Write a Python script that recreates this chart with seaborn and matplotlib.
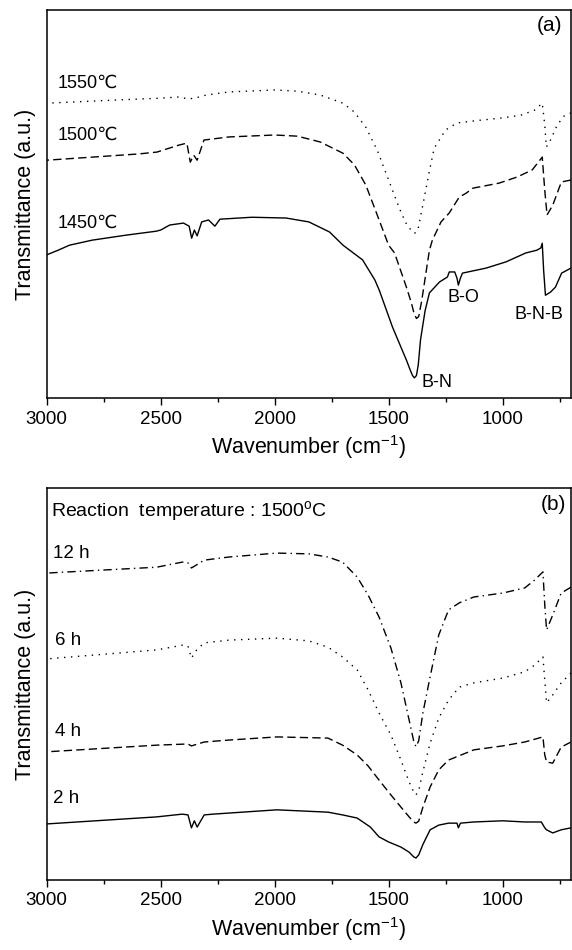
import pandas as pd
import matplotlib
matplotlib.use("Agg")
from matplotlib import pyplot as plt
from matplotlib.ticker import MultipleLocator
import seaborn as sns

# ---- panel (a): different temperatures (a.u.) ----
wn_1550 = [3000, 2700, 2500, 2420, 2380, 2350, 2300, 2200, 2000, 1900, 1800, 1700, 1650,
           1600, 1550, 1500, 1450, 1420, 1400, 1390, 1380, 1370, 1350, 1320, 1300, 1250,
           1200, 1100, 1000, 920, 860, 826, 815, 808, 790, 760, 730, 700]
t_1550 = [76.0, 76.8, 77.3, 77.6, 77.1, 77.3, 78.1, 78.9, 79.4, 79.1, 78.1, 76.0, 73.7,
          69.8, 63.9, 56.2, 48.5, 44.6, 43.2, 42.5, 42.6, 43.8, 49.7, 58.8, 64.4, 69.1,
          70.9, 71.6, 72.2, 72.9, 74.2, 76.0, 70.4, 64.7, 66.5, 70.4, 72.7, 73.5]

wn_1500 = [3000, 2800, 2600, 2516, 2420, 2385, 2370, 2355, 2340, 2310, 2200, 2000, 1900,
           1800, 1700, 1650, 1600, 1550, 1500, 1474, 1422, 1400, 1390, 1378, 1368, 1355,
           1321, 1308, 1270, 1234, 1190, 1160, 1130, 1015, 935, 870, 826, 815, 805, 780,
           742, 700]
t_1500 = [61.3, 62.1, 62.9, 63.4, 65.2, 65.7, 60.8, 62.6, 61.3, 66.5, 67.3, 67.8, 67.5,
          66.0, 63.1, 60.1, 54.9, 47.2, 39.4, 37.4, 28.6, 24.5, 22.2, 20.5, 21.0, 25.0,
          38.1, 40.7, 45.4, 47.7, 51.8, 52.8, 54.1, 55.4, 57.0, 58.8, 62.1, 53.6, 47.2,
          49.7, 55.7, 56.2]

wn_1450 = [3000, 2950, 2900, 2800, 2650, 2520, 2500, 2460, 2400, 2375, 2364, 2352, 2340,
           2320, 2290, 2262, 2240, 2100, 1950, 1850, 1759, 1700, 1614, 1560, 1541, 1483,
           1422, 1405, 1395, 1387, 1378, 1370, 1360, 1340, 1321, 1277, 1242, 1234, 1210,
           1200, 1194, 1185, 1176, 1072, 985, 898, 850, 832, 826, 820, 812, 790, 768, 741,
           700]
t_1450 = [36.9, 38.1, 39.4, 40.7, 42.0, 43.0, 43.3, 44.6, 45.1, 44.3, 41.2, 43.3, 41.8,
          45.4, 45.9, 44.3, 46.1, 46.6, 46.4, 45.4, 42.8, 39.4, 35.6, 30.4, 27.8, 18.3,
          9.8, 7.2, 5.8, 5.2, 5.8, 8.5, 15.0, 22.5, 27.1, 29.9, 31.2, 32.5, 32.5,
          30.9, 29.1, 30.9, 32.2, 33.5, 35.1, 37.4, 38.1, 38.7, 39.9, 33.0, 26.5, 27.3,
          28.6, 32.2, 33.5]

# ---- panel (b): different reaction times at 1500 C ----
wn_12h = [3000, 2517, 2405, 2380, 2365, 2342, 2309, 2200, 1990, 1850, 1766, 1702, 1638,
          1590, 1542, 1490, 1446, 1410, 1390, 1380, 1368, 1350, 1318, 1280, 1237, 1190,
          1126, 1000, 903, 860, 823, 815, 807, 780, 743, 700]
t_12h = [78.3, 79.8, 81.1, 80.9, 79.6, 80.4, 81.6, 82.4, 83.4, 83.2, 82.4, 81.1, 77.3,
         72.7, 67.1, 59.2, 50.3, 40.8, 35.5, 34.0, 35.5, 42.5, 51.8, 62.5, 68.9, 70.7,
         72.2, 73.2, 74.5, 76.5, 78.6, 70.2, 63.8, 67.6, 73.2, 74.7]

wn_6h = [3000, 2517, 2405, 2380, 2365, 2342, 2309, 2200, 1990, 1850, 1766, 1702, 1638,
         1590, 1542, 1490, 1446, 1410, 1390, 1380, 1368, 1350, 1318, 1280, 1237, 1190,
         1126, 1000, 903, 860, 823, 815, 807, 780, 743, 700]
t_6h = [56.4, 58.7, 59.9, 59.7, 56.6, 58.7, 60.5, 61.2, 61.7, 61.0, 59.4, 56.9, 53.6,
        48.5, 42.6, 37.0, 30.6, 25.0, 22.5, 21.7, 22.8, 27.5, 34.9, 41.3, 45.9, 49.2,
        50.3, 51.5, 53.1, 54.8, 56.9, 51.0, 45.2, 47.2, 50.3, 52.8]

wn_4h = [3000, 2517, 2380, 2365, 2309, 2200, 1990, 1766, 1702, 1638, 1590, 1542, 1490,
         1446, 1410, 1390, 1380, 1368, 1350, 1318, 1280, 1237, 1126, 1000, 903, 823, 815,
         807, 780, 743, 700]
t_4h = [32.7, 34.4, 34.7, 34.2, 35.2, 35.7, 36.5, 36.2, 34.4, 31.9, 29.1, 25.5, 21.7,
        18.6, 16.1, 14.8, 14.5, 15.0, 18.5, 23.7, 28.1, 30.6, 33.2, 34.2, 35.2, 36.5,
        31.9, 30.1, 29.8, 33.9, 35.2]

wn_2h = [3000, 2517, 2405, 2380, 2365, 2352, 2340, 2309, 2270, 1990, 1766, 1702, 1638,
         1580, 1542, 1500, 1446, 1410, 1390, 1380, 1368, 1350, 1318, 1280, 1237, 1200,
         1194, 1185, 1126, 1000, 903, 830, 815, 807, 780, 743, 700]
t_2h = [14.3, 16.1, 16.8, 16.6, 13.3, 15.1, 13.5, 16.6, 16.8, 17.9, 17.3, 16.6, 15.8,
        13.5, 11.0, 9.7, 8.4, 7.1, 5.9, 5.6, 6.4, 9.0, 12.8, 14.0, 14.5, 14.5,
        13.3, 14.5, 14.8, 15.1, 14.8, 14.8, 13.3, 12.8, 12.0, 12.8, 13.3]

sns.set_style("ticks")
plt.rcParams['font.family'] = ['Liberation Sans', 'DejaVu Sans']
plt.rcParams['mathtext.fontset'] = 'custom'
plt.rcParams['mathtext.rm'] = 'Liberation Sans'
plt.rcParams['text.color'] = 'black'
plt.rcParams['axes.labelcolor'] = 'black'
plt.rcParams['xtick.color'] = 'black'
plt.rcParams['ytick.color'] = 'black'

fig = plt.figure(figsize=(5.72, 9.5), dpi=100)
ax1 = fig.add_axes([0.0816, 0.581, 0.9166, 0.4084])
ax2 = fig.add_axes([0.0816, 0.0737, 0.9166, 0.4126])

dotted = (0, (1, 4))
dashed = (0, (6, 3))
dashdot = (0, (6, 3, 1, 3))

def draw(ax, wn, t, ls):
    df = pd.DataFrame({'wavenumber': wn, 'transmittance': t})
    sns.lineplot(data=df, x='wavenumber', y='transmittance', ax=ax,
                 color='black', lw=1.0, linestyle=ls)

draw(ax1, wn_1550, t_1550, dotted)
draw(ax1, wn_1500, t_1500, dashed)
draw(ax1, wn_1450, t_1450, '-')

draw(ax2, wn_12h, t_12h, dashdot)
draw(ax2, wn_6h, t_6h, dotted)
draw(ax2, wn_4h, t_4h, dashed)
draw(ax2, wn_2h, t_2h, '-')

for ax in (ax1, ax2):
    ax.set_xlim(3000, 700)
    ax.set_ylim(0, 100)
    ax.set_yticks([])
    ax.xaxis.set_major_locator(MultipleLocator(500))
    ax.xaxis.set_minor_locator(MultipleLocator(250))
    ax.tick_params(axis='x', which='major', length=5, width=1, labelsize=13.5, pad=4)
    ax.tick_params(axis='x', which='minor', length=3, width=1)
    for s in ax.spines.values():
        s.set_linewidth(1.1)
        s.set_color('black')
    ax.set_xlabel('Wavenumber (cm$^{\\mathregular{-1}}$)', fontsize=15.5, labelpad=4)
    ax.set_ylabel('Transmittance (a.u.)', fontsize=15.5, labelpad=8)

# panel (a) labels
ax1.text(0.960, 0.961, '(a)', transform=ax1.transAxes, fontsize=15, ha='center', va='center')
ax1.text(0.0216, 0.812, '1550\u2103', transform=ax1.transAxes, fontsize=13, va='center')
ax1.text(0.0216, 0.678, '1500\u2103', transform=ax1.transAxes, fontsize=13, va='center')
ax1.text(0.0216, 0.451, '1450\u2103', transform=ax1.transAxes, fontsize=13, va='center')
ax1.text(1356, 4.1, 'B-N', fontsize=13, va='center')
ax1.text(1242, 26.0, 'B-O', fontsize=13, va='center')
ax1.text(948, 21.6, 'B-N-B', fontsize=13, va='center')

# panel (b) labels
ax2.text(0.967, 0.957, '(b)', transform=ax2.transAxes, fontsize=15, ha='center', va='center')
ax2.text(0.008, 0.939, 'Reaction  temperature : 1500$^{\\mathregular{o}}$C',
         transform=ax2.transAxes, fontsize=14, va='center')
ax2.text(0.012, 0.834, '12 h', transform=ax2.transAxes, fontsize=13.5, va='center')
ax2.text(0.016, 0.610, '6 h', transform=ax2.transAxes, fontsize=13.5, va='center')
ax2.text(0.016, 0.378, '4 h', transform=ax2.transAxes, fontsize=13.5, va='center')
ax2.text(0.012, 0.209, '2 h', transform=ax2.transAxes, fontsize=13.5, va='center')

fig.savefig('out.png', dpi=100)
